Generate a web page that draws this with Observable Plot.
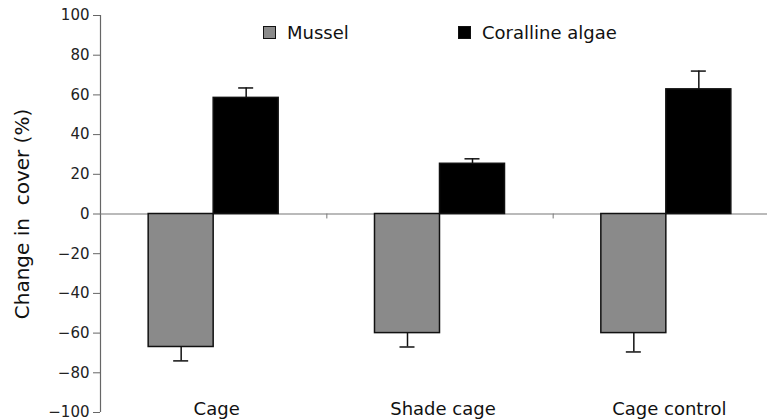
<!DOCTYPE html>
<html><head><meta charset="utf-8">
<script src="https://cdn.jsdelivr.net/npm/d3@7"></script>
<script src="https://cdn.jsdelivr.net/npm/@observablehq/plot@0.6"></script>
<style>
html,body{margin:0;padding:0;background:#fff;overflow:hidden}
#wrap{position:relative;width:767px;height:420px;font-family:"DejaVu Sans",sans-serif}
.item{position:absolute;display:flex;align-items:center;height:20px;font-size:18px;color:#111;white-space:nowrap}
.sw{width:13px;height:13px;border:1.5px solid #111;margin-right:11px;box-sizing:border-box}
</style></head><body><div id="wrap"></div>
<script>
const groups = ["Cage", "Shade cage", "Cage control"];
const series = ["Mussel", "Coralline algae"];
const musselMean = [-67, -60, -60];
const musselErrEnd = [-74, -67, -69.5];
const corallineMean = [58.5, 25.3, 62.8];
const corallineErrEnd = [63.5, 27.8, 72];
const yTicks = [-100, -80, -60, -40, -20, 0, 20, 40, 60, 80, 100];
const seriesColors = ["#8a8a8a", "#000000"];
const yLabel = "Change in  cover (%)";
const legendLeft = [263, 458];

const data = groups.flatMap((g, i) => [
  {group: g, series: series[0], value: musselMean[i], err: musselErrEnd[i]},
  {group: g, series: series[1], value: corallineMean[i], err: corallineErrEnd[i]}
]);

const W = 767, H = 420, mL = 100, mR = -12, mT = 15, mB = 8;
const padOuter = 0.741;
const facetW = (W - mL - mR) / groups.length;
const step = facetW / (series.length + 2 * padOuter);
const edgeDx = -(facetW / 2 - step / 2);

const chart = Plot.plot({
  width: W, height: H,
  marginLeft: mL, marginRight: mR, marginTop: mT, marginBottom: mB,
  style: {fontFamily: "DejaVu Sans, sans-serif", background: "white", overflow: "hidden"},
  fx: {domain: groups, padding: 0, round: false, axis: null},
  x: {domain: series, paddingInner: 0, paddingOuter: padOuter, round: false, axis: null},
  y: {domain: [-100, 100], axis: null},
  color: {domain: series, range: seriesColors},
  marks: [
    Plot.axisY({ticks: yTicks, tickSize: 7, tickPadding: 4, fontSize: 15, label: null, stroke: "#666", fill: "#222"}),
    Plot.ruleX([groups[0]], {fx: d => d, x: () => series[0], dx: edgeDx, y1: -100, y2: 100, stroke: "#666", strokeWidth: 1.2}),
    Plot.ruleY([0], {stroke: "#777", strokeWidth: 1.2}),
    Plot.ruleX(groups.slice(1), {fx: d => d, x: () => series[0], dx: edgeDx, y1: 0, y2: -2.5, stroke: "#777"}),
    Plot.ruleX(data, {fx: "group", x: "series", y1: "value", y2: "err", stroke: "#111", strokeWidth: 1.5}),
    Plot.tickY(data, {fx: "group", x: "series", y: "err", insetLeft: 25, insetRight: 25, stroke: "#111", strokeWidth: 1.5}),
    Plot.barY(data, {fx: "group", x: "series", y: "value", fill: "series", stroke: "#111", strokeWidth: 1.5}),
    Plot.text(groups, {fx: d => d, text: d => d, frameAnchor: "bottom", lineAnchor: "bottom", dy: 2, dx: 3, fontSize: 18, fill: "#111"}),
    Plot.text([yLabel], {fx: () => groups[0], text: d => d, frameAnchor: "left", textAnchor: "middle", rotate: -90, dx: -78, fontSize: 20, fill: "#111"})
  ]
});

const wrap = document.getElementById("wrap");
wrap.appendChild(chart);
series.forEach((s, i) => {
  const item = document.createElement("div");
  item.className = "item";
  item.style.left = legendLeft[i] + "px";
  item.style.top = "22px";
  const sw = document.createElement("div");
  sw.className = "sw";
  sw.style.background = seriesColors[i];
  item.appendChild(sw);
  item.appendChild(document.createTextNode(s));
  wrap.appendChild(item);
});
</script></body></html>
